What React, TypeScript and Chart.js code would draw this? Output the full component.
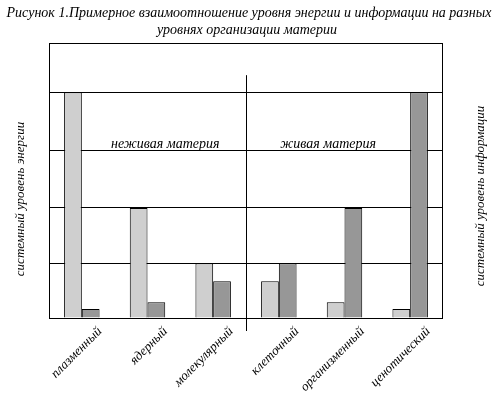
import React, { useEffect, useRef } from "react";
import { Chart, registerables } from "chart.js";
Chart.register(...registerables);

const TITLE_LINES = [
  "Рисунок 1.Примерное взаимоотношение уровня энергии и информации на разных",
  "уровнях организации материи",
];
const CATEGORIES = ["плазменный", "ядерный", "молекулярный", "клеточный", "организменный", "ценотический"];
const ENERGY = [4.0, 1.95, 0.97, 0.65, 0.28, 0.16];
const INFORMATION = [0.16, 0.28, 0.65, 0.97, 1.95, 4.0];
const Y_TICKS = [0, 0.97, 1.95, 2.96, 4];
const Y_MAX = 4.87;
const LEFT_AXIS_TITLE = "системный уровень энергии";
const RIGHT_AXIS_TITLE = "системный уровень информации";
const GROUP_LABELS = ["неживая материя", "живая материя"];
const GROUP_LABEL_POS = [1.27, 3.75];
const GROUP_LABEL_Y = 3.07;
const DIVIDER_POS = 2.5;
const DIVIDER_TOP = 4.3;

const FONT = "'Liberation Serif', 'Times New Roman', serif";

const decor = {
  id: "decor",
  afterDraw(chart: any) {
    const ctx = chart.ctx;
    const a = chart.chartArea;
    const xs = chart.scales.x;
    const ys = chart.scales.y;
    ctx.save();
    ctx.strokeStyle = "#000";
    ctx.lineWidth = 1;
    ctx.strokeRect(Math.round(a.left) + 0.5, Math.round(a.top) + 0.5, Math.round(a.right - a.left) - 1, Math.round(a.bottom - a.top));
    // divider
    const dx = Math.round(xs.getPixelForValue(DIVIDER_POS)) + 0.5;
    ctx.beginPath();
    ctx.moveTo(dx, ys.getPixelForValue(DIVIDER_TOP));
    ctx.lineTo(dx, a.bottom + 13);
    ctx.stroke();
    // group labels
    ctx.fillStyle = "#000";
    ctx.font = `italic 14px ${FONT}`;
    ctx.textAlign = "center";
    ctx.textBaseline = "middle";
    GROUP_LABELS.forEach((t, i) => {
      ctx.fillText(t, xs.getPixelForValue(GROUP_LABEL_POS[i]), ys.getPixelForValue(GROUP_LABEL_Y));
    });
    // title
    ctx.font = `italic 14px ${FONT}`;
    ctx.fillText(TITLE_LINES[0], 249, 13);
    ctx.fillText(TITLE_LINES[1], 247, 30);
    // axis titles
    ctx.font = `italic 13px ${FONT}`;
    ctx.save();
    ctx.translate(21, 199);
    ctx.rotate(-Math.PI / 2);
    ctx.fillText(LEFT_AXIS_TITLE, 0, 0);
    ctx.restore();
    ctx.save();
    ctx.translate(481, 196);
    ctx.rotate(-Math.PI / 2);
    ctx.fillText(RIGHT_AXIS_TITLE, 0, 0);
    ctx.restore();
    ctx.restore();
  },
};

export default function App() {
  const ref = useRef<HTMLCanvasElement>(null);
  useEffect(() => {
    if (!ref.current) return;
    const chart = new Chart(ref.current, {
      type: "bar",
      data: {
        labels: CATEGORIES,
        datasets: [
          { label: "энергия", data: ENERGY, backgroundColor: "#cfcfcf", borderColor: "#000", borderWidth: 1 },
          { label: "информация", data: INFORMATION, backgroundColor: "#979797", borderColor: "#000", borderWidth: 1 },
        ],
      },
      options: {
        animation: false,
        responsive: false,
        layout: { padding: { left: 49, right: 53, top: 43, bottom: 0 } },
        datasets: { bar: { categoryPercentage: 0.54, barPercentage: 1 } },
        plugins: { legend: { display: false }, title: { display: false }, tooltip: { enabled: false } },
        scales: {
          x: {
            grid: { display: false },
            border: { display: false },
            afterFit(scale: any) { scale.height = 81; },
            ticks: {
              autoSkip: false,
              maxRotation: 45,
              minRotation: 45,
              labelOffset: 18,
              padding: -2,
              color: "#000",
              font: { family: FONT, size: 13, style: "italic" },
            },
          },
          y: {
            min: 0,
            max: Y_MAX,
            afterFit(scale: any) { scale.width = 0; },
            afterBuildTicks(scale: any) { scale.ticks = Y_TICKS.map((v) => ({ value: v })); },
            ticks: { display: false },
            grid: { color: "#000", lineWidth: 1, drawTicks: false },
            border: { display: false },
          },
        },
      },
      plugins: [decor],
    });
    return () => chart.destroy();
  }, []);
  return (
    <div style={{ position: "absolute", left: 0, top: 0, width: 496, height: 399, background: "#fff" }}>
      <canvas ref={ref} width={496} height={399} style={{ width: 496, height: 399 }} />
    </div>
  );
}
